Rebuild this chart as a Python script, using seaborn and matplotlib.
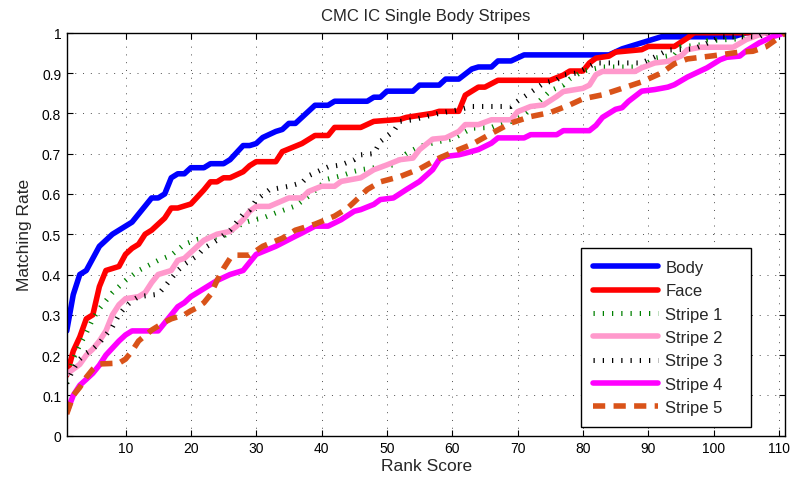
import matplotlib
matplotlib.use("Agg")
import matplotlib.pyplot as plt
import seaborn as sns
import pandas as pd

# Cumulative matching characteristic: rank -> matching rate
body_rank = [1, 2, 3, 4, 5, 6, 8, 10, 11, 12, 14, 15, 16, 17, 18, 19, 20, 22, 23, 25, 26, 28, 29, 30, 31, 33, 34,
             35, 36, 37, 38, 39, 41, 42, 47, 48, 49, 50, 54, 55, 58, 59, 61, 63, 64, 66, 67, 69, 71, 84, 86, 89,
             92, 103, 105, 111]
body_rate = [0.26, 0.35, 0.40, 0.41, 0.44, 0.47, 0.50, 0.52, 0.53, 0.55, 0.59, 0.59, 0.60, 0.64, 0.65, 0.65,
             0.665, 0.665, 0.675, 0.675, 0.685, 0.72, 0.72, 0.725, 0.74, 0.755, 0.76, 0.775, 0.775, 0.79, 0.805,
             0.82, 0.82, 0.83, 0.83, 0.84, 0.84, 0.855, 0.855, 0.87, 0.87, 0.885, 0.885, 0.91, 0.915, 0.915, 0.93,
             0.93, 0.945, 0.945, 0.96, 0.975, 0.99, 0.99, 1.0, 1.0]

face_rank = [1, 2, 3, 4, 5, 6, 7, 9, 10, 11, 12, 13, 14, 16, 17, 18, 19, 20, 22, 23, 24, 25, 26, 28, 29, 30, 33,
             34, 37, 39, 41, 42, 46, 48, 52, 53, 55, 57, 58, 61, 62, 63, 64, 65, 67, 75, 77, 78, 80, 81, 82, 84,
             85, 89, 90, 94, 96, 97, 111]
face_rate = [0.15, 0.21, 0.245, 0.29, 0.30, 0.37, 0.41, 0.42, 0.45, 0.465, 0.475, 0.50, 0.51, 0.54, 0.565, 0.565,
             0.57, 0.575, 0.61, 0.63, 0.63, 0.64, 0.64, 0.655, 0.67, 0.68, 0.68, 0.705, 0.725, 0.745, 0.745, 0.765,
             0.765, 0.78, 0.785, 0.79, 0.795, 0.80, 0.805, 0.805, 0.845, 0.855, 0.865, 0.865, 0.882, 0.882, 0.895,
             0.905, 0.905, 0.925, 0.937, 0.942, 0.952, 0.958, 0.966, 0.966, 0.987, 1.0, 1.0]

stripe1_rank = [1, 2, 3, 4, 5, 6, 7, 8, 10, 12, 15, 17, 19, 21, 25, 28, 30, 31, 33, 36, 38, 40, 41, 43, 45, 46,
                51, 53, 55, 58, 60, 63, 66, 67, 69, 71, 73, 75, 77, 78, 80, 83, 89, 91, 94, 95, 98, 99, 104, 106,
                111]
stripe1_rate = [0.13, 0.19, 0.225, 0.255, 0.29, 0.315, 0.335, 0.355, 0.385, 0.41, 0.435, 0.448, 0.475, 0.487,
                0.495, 0.528, 0.537, 0.54, 0.553, 0.57, 0.594, 0.623, 0.637, 0.645, 0.656, 0.66, 0.672, 0.70,
                0.718, 0.73, 0.736, 0.763, 0.765, 0.772, 0.78, 0.796, 0.825, 0.856, 0.87, 0.885, 0.905, 0.915,
                0.915, 0.937, 0.945, 0.965, 0.97, 0.98, 0.985, 1.0, 1.0]

stripe2_rank = [1, 2, 3, 4, 5, 6, 7, 8, 9, 10, 12, 13, 14, 15, 17, 18, 19, 20, 21, 22, 24, 26, 27, 28, 29, 30,
                32, 35, 37, 38, 40, 42, 43, 46, 48, 50, 52, 54, 55, 57, 59, 61, 62, 64, 66, 69, 70, 72, 74, 76,
                77, 80, 81, 82, 83, 88, 89, 91, 93, 95, 96, 98, 103, 105, 107, 108, 111]
stripe2_rate = [0.153, 0.165, 0.177, 0.20, 0.215, 0.235, 0.26, 0.30, 0.325, 0.34, 0.345, 0.355, 0.38, 0.40,
                0.41, 0.435, 0.44, 0.455, 0.47, 0.485, 0.50, 0.507, 0.52, 0.536, 0.557, 0.569, 0.569, 0.59, 0.59,
                0.606, 0.619, 0.619, 0.631, 0.64, 0.66, 0.672, 0.685, 0.689, 0.71, 0.736, 0.739, 0.755, 0.772,
                0.772, 0.784, 0.784, 0.804, 0.817, 0.821, 0.842, 0.854, 0.862, 0.87, 0.896, 0.904, 0.904, 0.913,
                0.925, 0.929, 0.942, 0.958, 0.964, 0.964, 0.983, 0.995, 1.0, 1.0]

stripe3_rank = [1, 2, 3, 4, 5, 6, 7, 8, 9, 10, 11, 12, 15, 16, 17, 18, 19, 21, 22, 24, 26, 27, 28, 29, 30, 32,
                35, 37, 38, 40, 41, 43, 45, 46, 48, 49, 51, 52, 54, 56, 58, 61, 63, 69, 70, 72, 74, 76, 77, 79,
                80, 82, 89, 91, 93, 97, 99, 101, 107, 108, 111]
stripe3_rate = [0.13, 0.165, 0.19, 0.205, 0.215, 0.23, 0.25, 0.27, 0.30, 0.32, 0.335, 0.345, 0.351, 0.37, 0.39,
                0.41, 0.425, 0.447, 0.465, 0.485, 0.51, 0.53, 0.55, 0.56, 0.585, 0.61, 0.619, 0.628, 0.645, 0.66,
                0.667, 0.672, 0.685, 0.697, 0.70, 0.73, 0.755, 0.78, 0.784, 0.792, 0.80, 0.809, 0.817, 0.817,
                0.83, 0.852, 0.875, 0.883, 0.895, 0.90, 0.908, 0.925, 0.925, 0.94, 0.957, 0.96, 0.974, 0.99,
                0.99, 1.0, 1.0]

stripe4_rank = [1, 2, 3, 4, 5, 6, 7, 9, 10, 11, 15, 16, 17, 18, 19, 20, 22, 24, 26, 28, 29, 30, 33, 36, 37, 39,
                41, 43, 45, 46, 48, 49, 51, 53, 55, 57, 58, 59, 61, 62, 64, 66, 67, 71, 72, 76, 77, 81, 82, 83,
                85, 86, 87, 89, 91, 93, 94, 96, 99, 101, 102, 104, 105, 107, 109, 111]
stripe4_rate = [0.058, 0.10, 0.125, 0.14, 0.155, 0.175, 0.20, 0.235, 0.25, 0.26, 0.26, 0.28, 0.30, 0.32, 0.33,
                0.345, 0.365, 0.385, 0.40, 0.41, 0.43, 0.45, 0.47, 0.495, 0.503, 0.52, 0.52, 0.536, 0.557, 0.561,
                0.574, 0.586, 0.59, 0.611, 0.631, 0.66, 0.685, 0.693, 0.697, 0.701, 0.71, 0.726, 0.739, 0.739,
                0.747, 0.747, 0.757, 0.757, 0.77, 0.79, 0.81, 0.814, 0.83, 0.855, 0.859, 0.865, 0.871, 0.89,
                0.913, 0.933, 0.939, 0.942, 0.955, 0.975, 0.99, 1.0]

stripe5_rank = [1, 2, 3, 4, 5, 6, 9, 10, 11, 12, 14, 16, 17, 19, 20, 21, 22, 23, 24, 25, 26, 27, 29, 31, 34, 36,
                39, 42, 44, 45, 47, 49, 52, 55, 57, 58, 61, 63, 66, 69, 72, 75, 78, 80, 83, 86, 89, 92, 94, 96,
                100, 104, 106, 108, 110, 111]
stripe5_rate = [0.054, 0.10, 0.12, 0.145, 0.165, 0.178, 0.18, 0.19, 0.21, 0.235, 0.262, 0.282, 0.29, 0.30, 0.31,
                0.318, 0.33, 0.35, 0.385, 0.415, 0.44, 0.448, 0.448, 0.47, 0.49, 0.51, 0.525, 0.545, 0.565, 0.58,
                0.611, 0.63, 0.643, 0.662, 0.68, 0.689, 0.71, 0.723, 0.75, 0.776, 0.792, 0.802, 0.821, 0.836,
                0.846, 0.862, 0.878, 0.90, 0.923, 0.935, 0.943, 0.952, 0.954, 0.965, 0.988, 1.0]

series_names = ["Body", "Face", "Stripe 1", "Stripe 2", "Stripe 3", "Stripe 4", "Stripe 5"]
series_data = [(body_rank, body_rate), (face_rank, face_rate), (stripe1_rank, stripe1_rate),
               (stripe2_rank, stripe2_rate), (stripe3_rank, stripe3_rate), (stripe4_rank, stripe4_rate),
               (stripe5_rank, stripe5_rate)]

x_ticks = [10, 20, 30, 40, 50, 60, 70, 80, 90, 100, 110]
y_ticks = [0, 0.1, 0.2, 0.3, 0.4, 0.5, 0.6, 0.7, 0.8, 0.9, 1]
y_tick_labels = ["0", "0.1", "0.2", "0.3", "0.4", "0.5", "0.6", "0.7", "0.8", "0.9", "1"]

styles = {
    "Body": dict(color="#0000FF", linewidth=4.0, linestyle="-"),
    "Face": dict(color="#FF0000", linewidth=4.0, linestyle="-"),
    "Stripe 1": dict(color="#008000", linewidth=3.6, linestyle=(0, (0.25, 1.6))),
    "Stripe 2": dict(color="#FF99CC", linewidth=4.0, linestyle="-"),
    "Stripe 3": dict(color="#000000", linewidth=3.6, linestyle=(0, (0.25, 1.6))),
    "Stripe 4": dict(color="#FF00FF", linewidth=4.0, linestyle="-"),
    "Stripe 5": dict(color="#D95319", linewidth=4.0, linestyle=(0, (2.2, 1.5))),
}

sns.set_style("ticks")
plt.rcParams["font.family"] = ["Liberation Sans", "DejaVu Sans"]

fig = plt.figure(figsize=(7.97, 4.89), dpi=100)
ax = fig.add_axes([0.0837, 0.107, 0.9018, 0.824])

for name, (ranks, rates) in zip(series_names, series_data):
    df = pd.DataFrame({"Rank Score": ranks, "Matching Rate": rates})
    sns.lineplot(data=df, x="Rank Score", y="Matching Rate", ax=ax, label=name,
                 solid_joinstyle="round", dash_capstyle="butt", **styles[name])

ax.set_xlim(1, 111)
ax.set_ylim(0, 1)
ax.set_xticks(x_ticks)
ax.set_xticklabels([str(t) for t in x_ticks])
ax.set_yticks(y_ticks)
ax.set_yticklabels(y_tick_labels)
ax.tick_params(direction="in", top=True, right=True, length=4, width=0.8,
               labelsize=10, colors="black", pad=4)
ax.grid(True, color="black", linewidth=0.7, linestyle=(0, (1, 7)), alpha=0.7)
for sp in ax.spines.values():
    sp.set_color("black")
    sp.set_linewidth(1.0)

ax.set_xlabel("Rank Score", fontsize=12.5, labelpad=2)
ax.set_ylabel("Matching Rate", fontsize=12.5, labelpad=7)
ax.set_title("CMC IC Single Body Stripes", fontsize=12, pad=9)

leg = ax.legend(loc="lower left", bbox_to_anchor=(0.7156, 0.0223, 0.2365, 0.3), mode="expand",
                borderaxespad=0, fontsize=12, handlelength=3.9, handletextpad=0.45,
                labelspacing=0.5, borderpad=0.7, fancybox=False, framealpha=1, edgecolor="black")
leg.get_frame().set_linewidth(1.0)

fig.savefig("out.png", dpi=100)
